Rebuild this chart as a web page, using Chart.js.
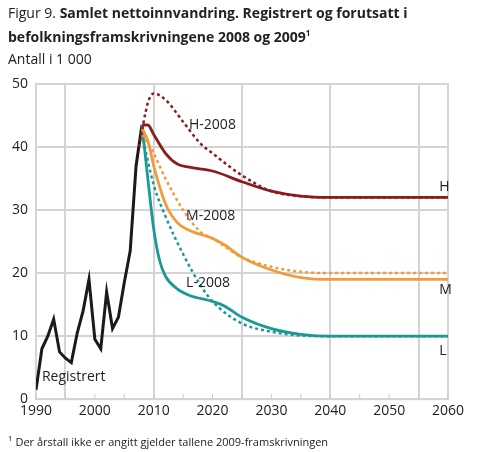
<!DOCTYPE html>
<html>
<head>
<meta charset="utf-8">
<script src="https://cdn.jsdelivr.net/npm/chart.js@4"></script>
<style>
  body { margin: 0; background: #fff; font-family: "Open Sans", sans-serif; color: #222; }
  #wrap { position: relative; width: 478px; height: 452px; }
  canvas { position: absolute; left: 0; top: 0; }
  .t { position: absolute; left: 8px; font-size: 14px; line-height: 20px; white-space: nowrap; }
  sup { font-size: 8px; }
</style>
</head>
<body>
<div id="wrap">
  <canvas id="c" width="478" height="452"></canvas>
  <div class="t" style="top:3px">Figur 9. <b>Samlet nettoinnvandring. Registrert og forutsatt i</b></div>
  <div class="t" style="top:23px"><b>befolkningsframskrivningene 2008 og 2009<sup>1</sup></b></div>
  <div class="t" style="top:49px">Antall i 1 000</div>
  <div class="t" style="top:428px;font-size:11px"><sup>1</sup> Der årstall ikke er angitt gjelder tallene 2009-framskrivningen</div>
</div>
<script>
const regYears = [1990,1991,1992,1993,1994,1995,1996,1997,1998,1999,2000,2001,2002,2003,2004,2005,2006,2007,2008];
const regValues = [1.5,8,10,12.7,7.5,6.5,5.8,10.5,14,19,9.5,8,17,11.2,13,18.5,23.5,37,43.5];

const hYears = [2008,2009,2010,2012,2014,2016,2020,2025,2030,2035,2040,2060];
const hValues = [43.5,43.5,42,39,37.3,36.8,36.2,34.5,33,32.2,32,32];
const h08Years = [2007.5,2009,2010,2012,2015,2018,2020,2025,2030,2035,2040,2060];
const h08Values = [40,47,48.5,47.5,44,40.5,39,35.5,33,32.2,32,32];

const mYears = [2008,2009,2010,2012,2014,2016,2020,2022,2025,2030,2035,2040,2060];
const mValues = [43,41,37,31,28,26.8,25.5,24.5,22.5,20.5,19.3,19,19];
const m08Years = [2008,2010,2012,2015,2018,2020,2025,2030,2035,2040,2060];
const m08Values = [42,39,35,30,26.5,25.5,22.5,21,20.2,20,20];

const lYears = [2008,2009,2010,2011,2012,2014,2016,2020,2022,2025,2030,2035,2040,2060];
const lValues = [43.5,35,27,22,19.5,17.5,16.5,15.5,14.8,13,11.2,10.3,10,10];
const l08Years = [2008,2010,2012,2015,2018,2020,2025,2030,2035,2040,2060];
const l08Values = [42,34,29,23,18,15.5,12,10.7,10.1,10,10];

const xTicks = [1990,2000,2010,2020,2030,2040,2050,2060];
const yTicks = [0,10,20,30,40,50];

const labels = [
  { text: 'H-2008', x: 2016, y: 43.5 },
  { text: 'M-2008', x: 2015.5, y: 29 },
  { text: 'L-2008', x: 2015.5, y: 18.5 },
  { text: 'H', x: 2058.5, y: 33.7 },
  { text: 'M', x: 2058.5, y: 17.3 },
  { text: 'L', x: 2058.5, y: 7.7 },
  { text: 'Registrert', x: 1991, y: 3.5 }
];

const RED = '#8c1c1c', ORANGE = '#f39a3c', TEAL = '#1a9a95';

function pts(xs, ys) { return xs.map((x, i) => ({ x: x, y: ys[i] })); }
function line(data, color, dashed) {
  return {
    data: data, borderColor: color, borderWidth: dashed ? 2.5 : 2.8,
    borderDash: dashed ? [3, 3] : [], pointRadius: 0, tension: 0.4,
    cubicInterpolationMode: 'monotone', fill: false
  };
}

const textPlugin = {
  id: 'texts',
  afterDraw(chart) {
    const c = chart.ctx, xs = chart.scales.x, ys = chart.scales.y;
    c.save();
    // small tick marks pointing up from the bottom axis
    c.strokeStyle = '#c8c8c8'; c.lineWidth = 1;
    for (let yr = 1990; yr <= 2060; yr += 5) {
      const px = xs.getPixelForValue(yr);
      c.beginPath(); c.moveTo(px, ys.bottom); c.lineTo(px, ys.bottom - 5); c.stroke();
    }
    c.font = '14px "Open Sans"'; c.fillStyle = '#222'; c.textBaseline = 'middle';
    labels.forEach(l => c.fillText(l.text, xs.getPixelForValue(l.x), ys.getPixelForValue(l.y)));
    c.restore();
  }
};

new Chart(document.getElementById('c'), {
  type: 'line',
  data: {
    datasets: [
      line(pts(h08Years, h08Values), RED, true),
      line(pts(m08Years, m08Values), ORANGE, true),
      line(pts(l08Years, l08Values), TEAL, true),
      line(pts(hYears, hValues), RED, false),
      line(pts(mYears, mValues), ORANGE, false),
      line(pts(lYears, lValues), TEAL, false),
      Object.assign(line(pts(regYears, regValues), '#1a1a1a', false),
        { tension: 0, cubicInterpolationMode: 'default', borderWidth: 3 })
    ]
  },
  options: {
    responsive: false, animation: false,
    layout: { padding: { top: 84, right: 30, bottom: 30, left: 4 } },
    plugins: { legend: { display: false }, tooltip: { enabled: false } },
    scales: {
      x: {
        type: 'linear', min: 1990, max: 2060,
        afterBuildTicks: s => { s.ticks = []; for (let v = 1990; v <= 2060; v += 5) s.ticks.push({ value: v }); },
        ticks: { autoSkip: false, maxRotation: 0, color: '#222', font: { size: 14, family: 'Open Sans' },
          callback: v => xTicks.includes(v) ? String(v) : '' },
        grid: { drawTicks: false, lineWidth: 2,
          color: c => (c.tick && (c.tick.value - 1995) % 15 === 0) ? '#d4d4d4' : 'rgba(0,0,0,0)' },
        border: { display: false }
      },
      y: {
        min: 0, max: 50,
        afterBuildTicks: s => { s.ticks = yTicks.map(v => ({ value: v })); },
        ticks: { color: '#222', font: { size: 14, family: 'Open Sans' }, padding: 8 },
        grid: { drawTicks: false, lineWidth: 2, color: '#d4d4d4' },
        border: { display: false }
      }
    }
  },
  plugins: [textPlugin, {
    id: 'frame',
    beforeDatasetsDraw(chart) {
      const a = chart.chartArea, c = chart.ctx;
      c.save(); c.strokeStyle = '#d4d4d4'; c.lineWidth = 2;
      c.strokeRect(a.left, a.top, a.right - a.left, a.bottom - a.top);
      c.restore();
    }
  }]
});
</script>
</body>
</html>
